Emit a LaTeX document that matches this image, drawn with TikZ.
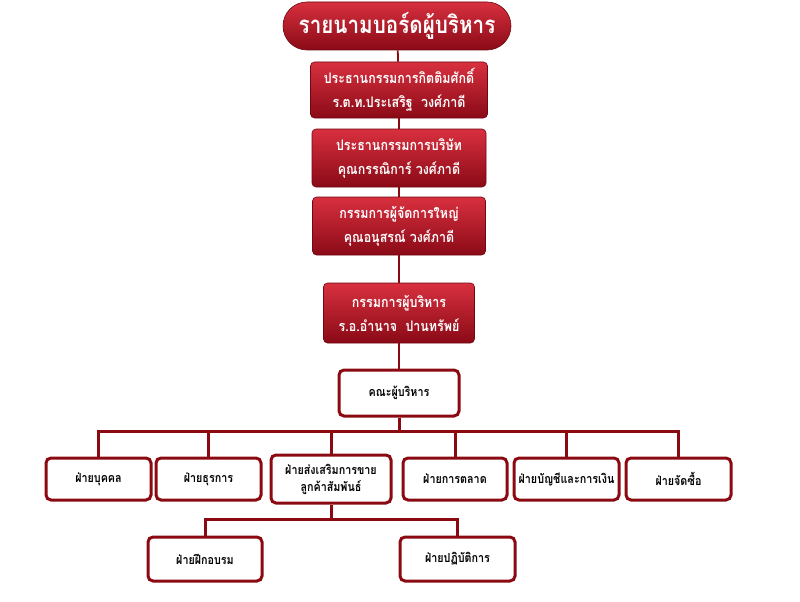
\documentclass[tikz,border=0pt]{standalone}
\usepackage{fontspec}
\usepackage{tikz}
\usetikzlibrary{calc}
\newfontfamily\thaifont[Script=Thai,FakeStretch=0.86]{Loma}
\definecolor{boardtop}{HTML}{D8303F}
\definecolor{boardbot}{HTML}{8A0A16}
\definecolor{boardline}{HTML}{8B0A12}

\begin{document}
\begin{tikzpicture}[x=1pt,y=-1pt,
    redbox/.style={draw=boardbot!80!black, line width=0.6pt, rounded corners=4pt,
        top color=boardtop, bottom color=boardbot, text=white, align=center,
        font=\thaifont\bfseries\fontsize{14.5}{24}\selectfont, inner sep=0pt},
    deptbox/.style={draw=boardline, line width=3pt, rounded corners=5pt, fill=white,
        text=black, align=center, font=\thaifont\bfseries\fontsize{12.5}{20}\selectfont, inner sep=0pt},
    link/.style={draw=boardline, line width=3pt},
    spine/.style={draw=boardline, line width=1.8pt}]
    \useasboundingbox (0,0) rectangle (800,602);
    % board
    \node[redbox, minimum width=228, minimum height=48, rounded corners=24pt,
        font=\thaifont\bfseries\fontsize{24}{24}\selectfont] (title) at (397,26) {รายนามบอร์ดผู้บริหาร};
    \node[redbox, minimum width=177, minimum height=56] (honor) at (399,90) {ประธานกรรมการกิตติมศักดิ์\\ร.ต.ท.ประเสริฐ\ \ วงศ์ภาดี};
    \node[redbox, minimum width=174, minimum height=58] (chair) at (399,158) {ประธานกรรมการบริษัท\\คุณกรรณิการ์ วงศ์ภาดี};
    \node[redbox, minimum width=173, minimum height=58] (md) at (399,226) {กรรมการผู้จัดการใหญ่\\คุณอนุสรณ์ วงศ์ภาดี};
    \node[redbox, minimum width=151, minimum height=60] (exec) at (399,313) {กรรมการผู้บริหาร\\ร.อ.อำนาจ\ \ ปานทรัพย์};
    \node[deptbox, minimum width=120, minimum height=46] (comm) at (399,393) {คณะผู้บริหาร};
    \draw[spine] (title) -- (honor);
    \draw[spine] (honor) -- (chair);
    \draw[spine] (chair) -- (md);
    \draw[spine] (md) -- (exec);
    \draw[spine] (exec) -- (comm);
    % departments
    \coordinate (bus) at (0,431);
    \node[deptbox, minimum width=105, minimum height=42] (staff) at (98.5,479) {ฝ่ายบุคคล};
    \node[deptbox, minimum width=105, minimum height=42] (admin) at (208.5,479) {ฝ่ายธุรการ};
    \node[deptbox, minimum width=120, minimum height=48] (sales) at (331,479) {ฝ่ายส่งเสริมการขาย\\[-3pt]ลูกค้าสัมพันธ์};
    \node[deptbox, minimum width=104, minimum height=42] (market) at (455,479) {ฝ่ายการตลาด};
    \node[deptbox, minimum width=105, minimum height=42] (account) at (566.5,479) {ฝ่ายบัญชีและการเงิน};
    \node[deptbox, minimum width=105, minimum height=42] (buy) at (678.5,479) {ฝ่ายจัดซื้อ};
    \foreach \d in {staff,admin,sales,market,account,buy}
        \draw[link] (comm.south) -- (comm.south |- bus) -| (\d.north);
    % under sales
    \coordinate (subbus) at (0,519);
    \node[deptbox, minimum width=114, minimum height=44] (train) at (205,559) {ฝ่ายฝึกอบรม};
    \node[deptbox, minimum width=115, minimum height=44] (ops) at (457.5,559) {ฝ่ายปฏิบัติการ};
    \foreach \d in {train,ops}
        \draw[link] (sales.south) -- (sales.south |- subbus) -| (\d.north);
\end{tikzpicture}
\end{document}
